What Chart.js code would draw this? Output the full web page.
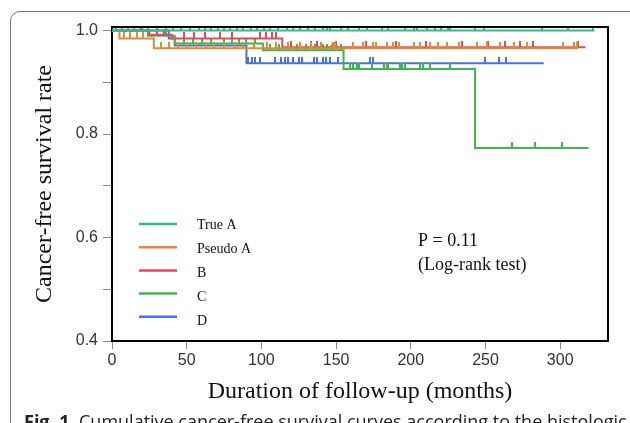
<!DOCTYPE html>
<html>
<head>
<meta charset="utf-8">
<script src="https://cdn.jsdelivr.net/npm/chart.js@4/dist/chart.umd.min.js"></script>
<style>
    html, body { margin: 0; padding: 0; background: #fff; }
    #wrap { position: relative; width: 630px; height: 423px; overflow: hidden; }
    #panel { position: absolute; left: 10px; top: 11px; width: 700px; height: 500px; border: 1px solid #777; border-radius: 10px; }
    #chart { position: absolute; left: 0; top: 0; }
    #caption { position: absolute; left: 24px; top: 409px; font-family: "Open Sans"; font-size: 18px; white-space: nowrap; color: #222; }
</style>
</head>
<body>
<div id="wrap">
    <div id="panel"></div>
    <canvas id="chart" width="630" height="423"></canvas>
    <div id="caption"><b>Fig. 1</b>&nbsp; Cumulative cancer-free survival curves according to the histologic type</div>
</div>
<script>
// groups
const groupNames = ['True A', 'Pseudo A', 'B', 'C', 'D'];
const groupColors = ['#33b98f', '#e08a3c', '#dd4d5e', '#41b64c', '#4674dc'];

// step points (months, survival)
const trueATimes = [0, 323];
const trueASurv = [1, 1];
const pseudoATimes = [0, 5, 28, 312];
const pseudoASurv = [1, 0.985, 0.966, 0.966];
const bTimes = [0, 25, 40, 114, 317];
const bSurv = [1, 0.992, 0.985, 0.968, 0.968];
const cTimes = [0, 24, 42, 101, 155, 243, 319];
const cSurv = [1, 0.99, 0.975, 0.962, 0.926, 0.773, 0.773];
const dTimes = [0, 38, 42, 90, 289];
const dSurv = [1, 0.985, 0.971, 0.937, 0.937];

// censored times
const trueACensor = [3, 7, 11, 15, 19, 24, 30, 36, 41, 46, 52, 58, 62, 66, 71, 75, 79, 84, 88, 93, 97, 102, 106, 111, 117, 121, 126, 131, 136, 141, 144, 146, 153, 158, 165, 171, 181, 185, 196, 202, 204, 211, 216, 220, 225, 226, 243, 249, 288, 305, 322];
const pseudoACensor = [8, 12, 17, 21, 33, 38, 44, 50, 56, 63, 68, 75, 82, 88, 95, 104, 110, 118, 126, 133, 140, 148, 149, 161, 168, 175, 177, 184, 188, 192, 202, 206, 213, 218, 224, 232, 244, 251, 260, 269, 278, 302, 309, 311];
const bCensor = [30, 35, 48, 55, 62, 72, 80, 99, 103, 107, 110, 120, 133, 137, 150, 170, 190, 210, 234, 252, 263, 273, 282, 312];
const cCensor = [30, 36, 48, 54, 60, 66, 75, 80, 85, 90, 96, 106, 112, 118, 124, 130, 136, 141, 144, 147, 148, 153, 159, 161, 164, 165, 174, 182, 184, 185, 193, 194, 196, 206, 208, 213, 226, 268, 283, 301];
const dCensor = [20, 91, 94, 96, 99, 109, 113, 116, 118, 121, 125, 127, 135, 137, 141, 143, 146, 151, 173, 175, 250, 259, 264];

// axes
const xTickValues = [0, 50, 100, 150, 200, 250, 300];
const yTickValues = [0.4, 0.5, 0.6, 0.7, 0.8, 0.9, 1.0];
const yTickLabels = ['0.4', '', '0.6', '', '0.8', '', '1.0'];

const groupTimes = [trueATimes, pseudoATimes, bTimes, cTimes, dTimes];
const groupSurv = [trueASurv, pseudoASurv, bSurv, cSurv, dSurv];
const groupCensor = [trueACensor, pseudoACensor, bCensor, cCensor, dCensor];

function survivalAt(times, surv, t) {
    var v = surv[0];
    for (var i = 0; i < times.length; i++) {
        if (times[i] <= t) v = surv[i];
    }
    return v;
}

// little upward tick used as censor mark
function censorMark(color) {
    const c = document.createElement('canvas');
    c.width = 2; c.height = 12;
    const g = c.getContext('2d');
    g.fillStyle = color;
    g.fillRect(0, 0, 2, 6);
    return c;
}

const datasets = [];
groupNames.forEach((name, i) => {
    datasets.push({
        type: 'line',
        label: name,
        data: groupTimes[i].map((t, k) => ({ x: t, y: groupSurv[i][k] })),
        borderColor: groupColors[i],
        borderWidth: 2,
        stepped: true,
        pointRadius: 0,
        fill: false
    });
    datasets.push({
        type: 'scatter',
        label: name + ' censored',
        data: groupCensor[i].map(t => ({ x: t, y: survivalAt(groupTimes[i], groupSurv[i], t) })),
        pointStyle: censorMark(groupColors[i]),
        pointRadius: 3,
        showLine: false
    });
});

const framePlugin = {
    id: 'frame',
    afterDatasetsDraw(chart) {
        const { ctx, chartArea: a } = chart;
        ctx.save();
        ctx.strokeStyle = '#000';
        ctx.lineWidth = 2;
        ctx.beginPath();
        ctx.moveTo(a.left, a.top);
        ctx.lineTo(a.right, a.top);
        ctx.lineTo(a.right, a.bottom);
        ctx.stroke();

        // legend inside the plot
        ctx.textBaseline = 'middle';
        ctx.font = '14px "Liberation Serif"';
        groupNames.forEach((name, i) => {
            const y = a.top + 197 + i * 23.2;
            ctx.strokeStyle = groupColors[i];
            ctx.lineWidth = 2.5;
            ctx.beginPath();
            ctx.moveTo(a.left + 27, y);
            ctx.lineTo(a.left + 65, y);
            ctx.stroke();
            ctx.fillStyle = '#111';
            ctx.fillText(name, a.left + 85, y + 1 + i * 0.8);
        });

        // p value
        ctx.font = '18px "Liberation Serif"';
        ctx.fillText('P = 0.11', a.left + 306, a.top + 214);
        ctx.fillText('(Log-rank test)', a.left + 306, a.top + 238);
        ctx.restore();
    }
};

new Chart(document.getElementById('chart'), {
    type: 'line',
    data: { datasets: datasets },
    options: {
        responsive: false,
        animation: false,
        layout: { padding: { top: 27, right: 22, left: 10, bottom: 0 } },
        plugins: {
            legend: { display: false },
            tooltip: { enabled: false }
        },
        scales: {
            x: {
                type: 'linear',
                min: 0,
                max: 332,
                afterBuildTicks: scale => { scale.ticks = xTickValues.map(v => ({ value: v })); },
                afterFit: scale => { scale.height = 82; },
                ticks: {
                    font: { family: 'Liberation Sans', size: 16 },
                    color: '#333',
                    padding: 2,
                    maxRotation: 0
                },
                grid: { drawOnChartArea: false, tickLength: 8, tickColor: '#888' },
                border: { color: '#000', width: 2 },
                title: {
                    display: true,
                    text: 'Duration of follow-up (months)',
                    font: { family: 'Liberation Serif', size: 24 },
                    color: '#111',
                    padding: { top: 0, bottom: 17 }
                }
            },
            y: {
                min: 0.4,
                max: 1.007,
                afterBuildTicks: scale => { scale.ticks = yTickValues.map(v => ({ value: v })); },
                afterFit: scale => { scale.width = 102; },
                ticks: {
                    font: { family: 'Liberation Sans', size: 16 },
                    color: '#333',
                    padding: 5,
                    callback: (v, i) => yTickLabels[i]
                },
                grid: { drawOnChartArea: false, tickLength: 9, tickColor: '#888' },
                border: { color: '#000', width: 2 },
                title: {
                    display: true,
                    text: 'Cancer-free survival rate',
                    font: { family: 'Liberation Serif', size: 24 },
                    color: '#111',
                    padding: { top: 20, bottom: 0 }
                }
            }
        }
    },
    plugins: [framePlugin]
});
</script>
</body>
</html>
